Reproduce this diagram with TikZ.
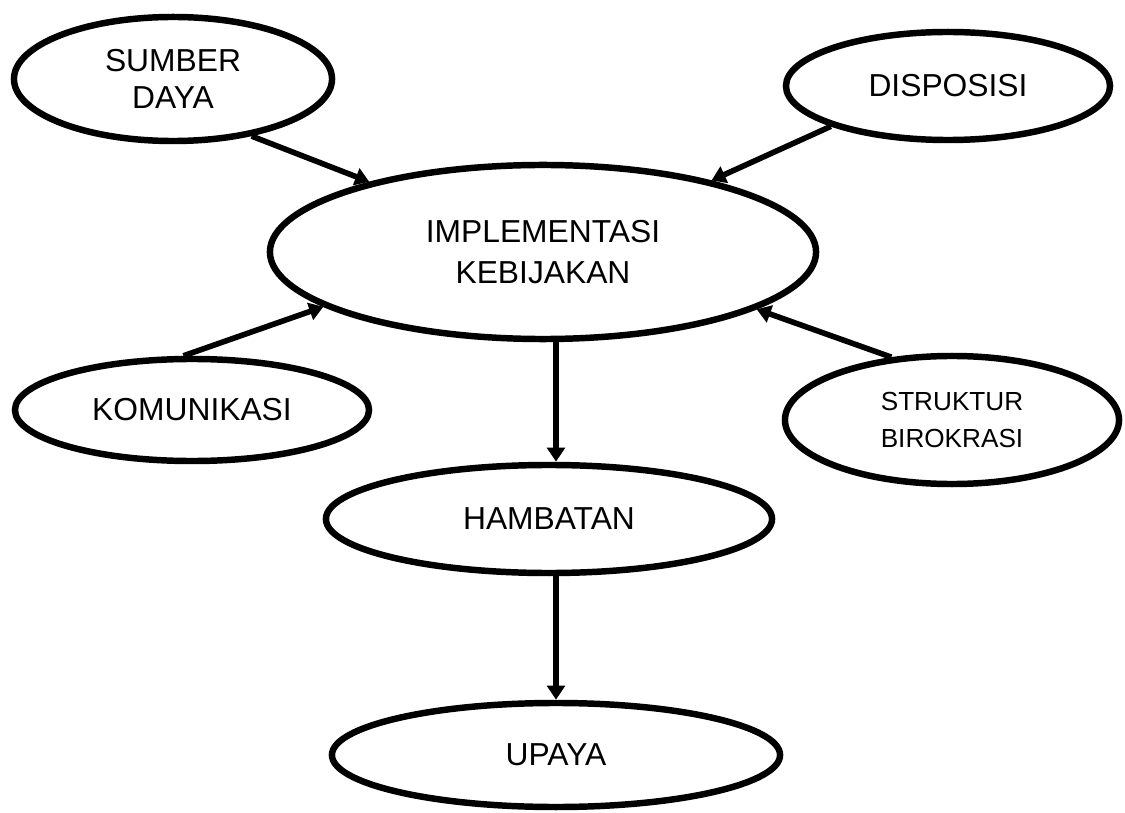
\documentclass[tikz,border=0pt]{standalone}
\usepackage{fontspec}
\setmainfont{Liberation Sans}
\usetikzlibrary{arrows.meta,shapes.geometric}

\begin{document}
\begin{tikzpicture}[x=0.025cm,y=-0.025cm,
  bubble/.style={ellipse,draw,line width=4.6pt,inner sep=0pt,align=center,
    font=\fontsize{22.6}{26.5}\selectfont},
  link/.style={line width=4pt,-{Triangle[length=10pt,width=12.5pt]}}]
\useasboundingbox (0,0) rectangle (1125,813);
\node[bubble,minimum width=7.95cm,minimum height=3.1cm] (sumber) at (173,79) {SUMBER\\DAYA};
\node[bubble,minimum width=8.1cm,minimum height=2.7cm] (disposisi) at (948,86) {DISPOSISI};
\node[bubble,minimum width=13.65cm,minimum height=4.35cm,
  font=\fontsize{22.6}{29.5}\selectfont] (impl) at (543,252) {IMPLEMENTASI\\KEBIJAKAN};
\node[bubble,minimum width=8.85cm,minimum height=2.55cm] (komunikasi) at (192,410) {KOMUNIKASI};
\node[bubble,minimum width=8.35cm,minimum height=3.2cm,
  font=\fontsize{18.6}{26}\selectfont] (struktur) at (952,420) {STRUKTUR\\BIROKRASI};
\node[bubble,minimum width=11.15cm,minimum height=2.7cm] (hambatan) at (549,519) {HAMBATAN};
\node[bubble,minimum width=11.2cm,minimum height=2.6cm] (upaya) at (556,755) {UPAYA};
\draw[link] (sumber.-36) -- (impl.158);
\draw[link] (disposisi.-161) -- (impl.23);
\draw[link] (komunikasi.99) -- (impl.-166);
\draw[link] (struktur.134) -- (impl.-15);
\draw[link] (impl.south -| upaya) -- (hambatan.north -| upaya);
\draw[link] (hambatan.south -| upaya) -- (upaya.north);
\end{tikzpicture}
\end{document}
